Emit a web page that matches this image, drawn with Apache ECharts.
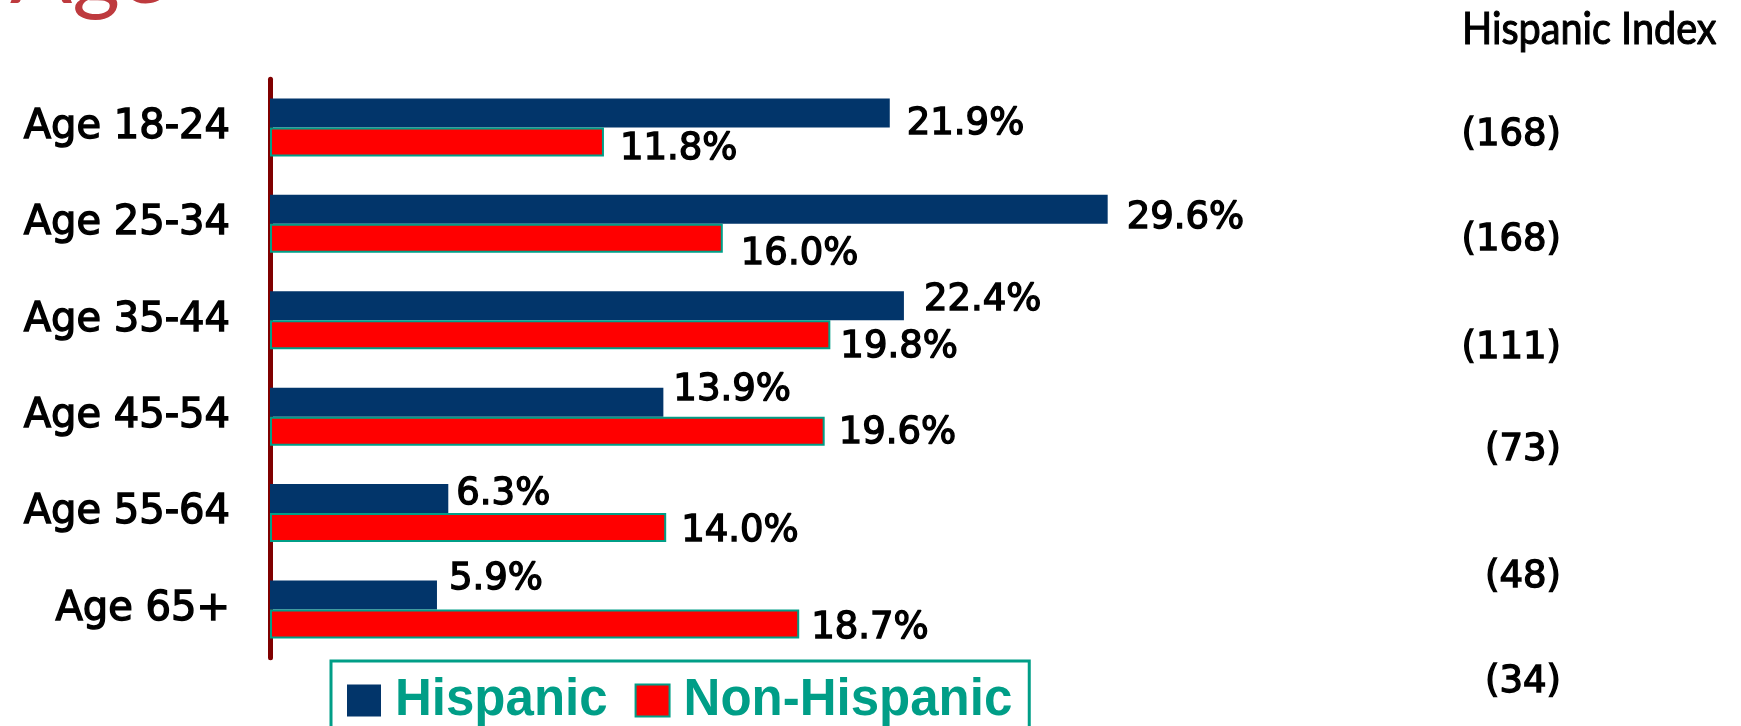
<!DOCTYPE html>
<html>
<head>
<meta charset="utf-8">
<script src="https://cdn.jsdelivr.net/npm/echarts@6/dist/echarts.min.js"></script>
<style>
html,body{margin:0;padding:0;background:#fff;}
#chart{width:1741px;height:726px;}
</style>
</head>
<body>
<div id="chart"></div>
<script>
// ---- data ----
const categories = ['Age 18-24', 'Age 25-34', 'Age 35-44', 'Age 45-54', 'Age 55-64', 'Age 65+'];
const hispanic = [21.9, 29.6, 22.4, 13.9, 6.3, 5.9];
const nonHispanic = [11.8, 16.0, 19.8, 19.6, 14.0, 18.7];
const hispanicIndex = [168, 168, 111, 73, 48, 34];
const seriesNames = ['Hispanic', 'Non-Hispanic'];
const titleText = 'Age';
const indexHeader = 'Hispanic Index';

// ---- styling / layout (not data) ----
const hispLabelNudge = [[17, 11], [19, 9], [20, -5.5], [10, -11.5], [8, -4], [12, -15.5]];
const nonHispLabelNudge = [[16, 7.5], [18, 16], [10, 12.5], [14, 2.5], [15, 3.5], [12, 4]];
const indexLabelY = [135, 240, 348, 450, 577, 682];

const NAVY = '#02356A';
const RED = '#FF0000';
const TEAL = '#009E87';
const labelFont = 'DejaVu Sans';

function withNudges(values, nudges) {
  return values.map((v, i) => ({
    value: v,
    label: { offset: [nudges[i][0], nudges[i][1]] }
  }));
}

const valueLabel = {
  show: true,
  position: 'right',
  distance: 0,
  formatter: p => Number(p.value).toFixed(1) + '%',
  fontFamily: labelFont,
  fontSize: 37,
  color: '#000',
  textBorderColor: '#000',
  textBorderWidth: 1.4
};

const graphics = [
  {
    type: 'text', x: 10, y: -27, silent: true,
    style: { text: titleText, fill: '#BE3A3E', font: 'normal 92px Lato',
             align: 'left', verticalAlign: 'middle', textAlign: 'left', textVerticalAlign: 'middle' }
  },
  {
    type: 'text', x: 1462, y: 30, scaleX: 0.9, originX: 0, silent: true,
    style: { text: indexHeader, fill: '#000', font: 'normal 44px Lato',
             stroke: '#000', lineWidth: 1.1,
             align: 'left', verticalAlign: 'middle', textAlign: 'left', textVerticalAlign: 'middle' }
  }
];
hispanicIndex.forEach((v, i) => {
  graphics.push({
    type: 'text', x: 1561, y: indexLabelY[i], silent: true,
    style: { text: '(' + v + ')', fill: '#000', font: 'normal 37px "DejaVu Sans"',
             stroke: '#000', lineWidth: 1.4,
             align: 'right', verticalAlign: 'middle', textAlign: 'right', textVerticalAlign: 'middle' }
  });
});

const option = {
  animation: false,
  backgroundColor: '#fff',
  grid: { left: 270, top: 79.2, width: 1273.5, height: 578.5, containLabel: false },
  xAxis: { type: 'value', min: 0, max: 45, show: false },
  yAxis: {
    type: 'category',
    data: categories,
    inverse: true,
    axisLine: { show: true, lineStyle: { color: '#800000', width: 5, cap: 'round' } },
    axisTick: { show: false },
    splitLine: { show: false },
    axisLabel: {
      margin: 40,
      fontFamily: labelFont,
      fontSize: 40,
      color: '#000',
      textBorderColor: '#000',
      textBorderWidth: 1.4,
      padding: [7, 0, 0, 0]
    }
  },
  legend: {
    data: seriesNames,
    left: 331,
    top: 661,
    orient: 'horizontal',
    icon: 'rect',
    itemWidth: 34,
    itemHeight: 32,
    itemGap: 27,
    padding: [14, 17, 40, 16],
    borderColor: TEAL,
    borderWidth: 3,
    textStyle: {
      fontFamily: 'Liberation Sans',
      fontWeight: 'bold',
      fontSize: 51,
      color: TEAL,
      padding: [0, 0, 0, 9]
    }
  },
  graphic: graphics,
  series: [
    {
      name: seriesNames[0],
      type: 'bar',
      data: withNudges(hispanic, hispLabelNudge),
      barWidth: 29,
      barGap: '0%',
      itemStyle: { color: NAVY },
      label: valueLabel
    },
    {
      name: seriesNames[1],
      type: 'bar',
      data: withNudges(nonHispanic, nonHispLabelNudge),
      barWidth: 29,
      barGap: '0%',
      itemStyle: { color: RED, borderColor: TEAL, borderWidth: 2 },
      label: valueLabel
    }
  ]
};

const chart = echarts.init(document.getElementById('chart'), null, { renderer: 'canvas' });
chart.setOption(option);
</script>
</body>
</html>
